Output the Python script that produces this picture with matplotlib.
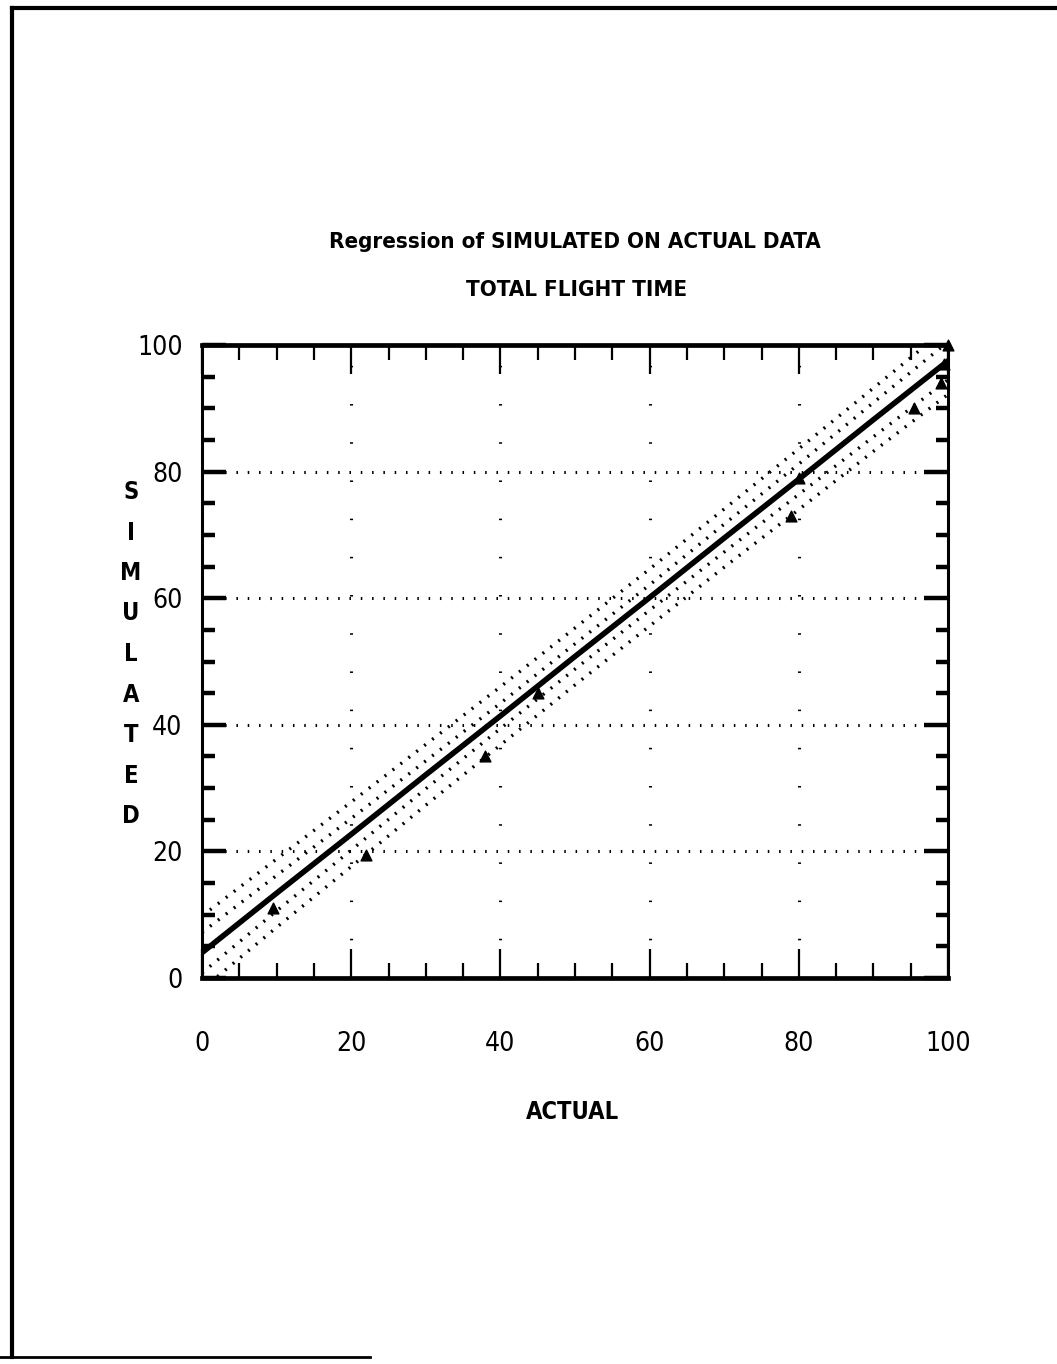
import numpy as np
import matplotlib
matplotlib.use('Agg')
import matplotlib.pyplot as plt
from matplotlib.lines import Line2D

plt.rcParams['font.family'] = ['DejaVu Sans']
plt.rcParams['font.stretch'] = 'condensed'

# fitted regression line
fit_x = [0, 10, 20, 30, 40, 50, 60, 70, 80, 90, 100]
fit_y = [4.0, 13.4, 22.7, 32.1, 41.4, 50.8, 60.1, 69.5, 78.8, 88.2, 97.5]

# inner band (confidence of the mean)
inner_hi = [7.2, 16.2, 25.2, 34.3, 43.4, 52.8, 62.1, 71.7, 81.2, 90.9, 100.5]
inner_lo = [0.8, 10.6, 20.2, 29.9, 39.4, 48.8, 58.1, 67.3, 76.4, 85.5, 94.5]
# outer band (prediction)
outer_hi = [9.8, 18.8, 27.8, 36.9, 46.0, 55.3, 64.6, 74.1, 83.6, 93.2, 102.8]
outer_lo = [-1.8, 8.0, 17.6, 27.3, 36.8, 46.3, 55.6, 64.9, 74.0, 83.2, 92.2]

# observed points
obs_x = [9.5, 22, 38, 45, 79, 80, 95.5, 99, 99.5, 100]
obs_y = [11, 19.5, 35, 45, 73, 79, 90, 94, 97, 100]

fig = plt.figure(figsize=(10.57, 13.64), dpi=100)
ax = fig.add_axes([202 / 1057, 1 - 978 / 1364, 746 / 1057, 633 / 1364])

ax.set_xlim(0, 100)
ax.set_ylim(0, 100)

# grid
for g in [20, 40, 60, 80]:
    ax.axhline(g, color='black', lw=2.2, linestyle=(0, (0.5, 3.2)), zorder=1)
    ax.axvline(g, color='black', lw=2.2, linestyle=(0, (0.5, 12)), zorder=1)

# bands
band_ls = (0, (0.6, 2.4))
for band in [inner_hi, inner_lo, outer_hi, outer_lo]:
    ax.plot(fit_x, band, color='black', lw=2.4, linestyle=band_ls, zorder=2)

# regression line
ax.plot(fit_x, fit_y, color='black', lw=4, zorder=3)
ax.scatter(obs_x, obs_y, marker='^', s=60, color='black', zorder=4, clip_on=False)

# spines
for side in ['top', 'bottom']:
    ax.spines[side].set_linewidth(3.4)
for side in ['left', 'right']:
    ax.spines[side].set_linewidth(2.2)

ax.set_xticks([0, 20, 40, 60, 80, 100])
ax.set_yticks([0, 20, 40, 60, 80, 100])
ax.set_xticks(np.arange(0, 101, 5), minor=True)
ax.set_yticks(np.arange(0, 101, 5), minor=True)

ax.tick_params(axis='x', which='major', direction='in', length=21, width=1.6,
               top=True, bottom=True, pad=38, labelsize=19)
ax.tick_params(axis='x', which='minor', direction='in', length=11, width=1.6,
               top=True, bottom=True)
ax.tick_params(axis='y', which='major', direction='in', length=17, width=3.2,
               left=True, right=True, pad=14, labelsize=19)
ax.tick_params(axis='y', which='minor', direction='in', length=9, width=3.2,
               left=True, right=True)

# titles
fig.text(575 / 1057, 1 - 242 / 1364, 'Regression of SIMULATED ON ACTUAL DATA',
         ha='center', va='center', fontsize=16, fontweight='bold')
fig.text(577 / 1057, 1 - 290 / 1364, 'TOTAL FLIGHT TIME',
         ha='center', va='center', fontsize=16, fontweight='bold')

# axis labels
fig.text(573 / 1057, 1 - 1112 / 1364, 'ACTUAL', ha='center', va='center',
         fontsize=17, fontweight='bold')
for i, ch in enumerate('SIMULATED'):
    fig.text(131 / 1057, 1 - (492 + i * 40.5) / 1364, ch,
             ha='center', va='center', fontsize=17, fontweight='bold')

# page frame
fig.add_artist(Line2D([12 / 1057, 1.0], [1 - 8 / 1364, 1 - 8 / 1364],
                      color='black', lw=3, transform=fig.transFigure))
fig.add_artist(Line2D([12 / 1057, 12 / 1057], [1 - 8 / 1364, 1 - 1357 / 1364],
                      color='black', lw=3, transform=fig.transFigure))
fig.add_artist(Line2D([0, 370 / 1057], [1 - 1357 / 1364, 1 - 1357 / 1364],
                      color='black', lw=2, transform=fig.transFigure))

fig.savefig('out.png', dpi=100)
